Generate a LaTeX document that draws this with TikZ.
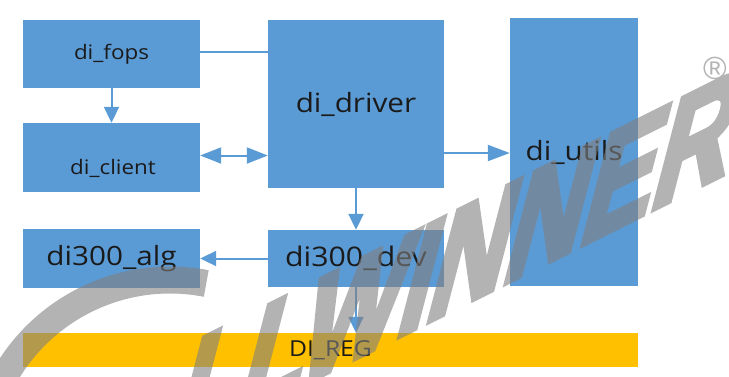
\documentclass[tikz,border=0pt]{standalone}
\usepackage{fontspec}
\setmainfont{Open Sans}[FakeStretch=1.12]
\newfontfamily\wmfont{Liberation Sans}[FakeStretch=0.76, FakeBold=4]
\newfontfamily\regfont{Liberation Sans}
\usetikzlibrary{arrows.meta}
\definecolor{boxblue}{HTML}{5B9BD5}
\definecolor{lineblue}{HTML}{5B9BD5}
\definecolor{regyellow}{HTML}{FFC000}
\definecolor{txt}{HTML}{1A1A1A}
\definecolor{wmgray}{HTML}{808080}
\begin{document}
\begin{tikzpicture}[x=1pt,y=-1pt,
  box/.style={fill=boxblue, inner sep=0pt, text=txt},
  regbox/.style={fill=regyellow, inner sep=0pt, text=txt},
  lbl/.style={inner sep=0pt, text=txt},
  conn/.style={draw=lineblue, line width=2pt},
  tipa/.style={-{Triangle[length=16pt,width=15pt]}},
  tipb/.style={{Triangle[length=21pt,width=16pt]}-{Triangle[length=21pt,width=16pt]}},
  tipc/.style={-{Triangle[length=22pt,width=16pt]}},
  wm/.style={draw=wmgray},
  wmtext/.style={text=wmgray, inner sep=0pt}]
\useasboundingbox (0,0) rectangle (729,376);

\node[box, minimum width=177pt, minimum height=68pt, font=\fontsize{20pt}{24pt}\selectfont] (fops) at (111.5,54) {di\_fops};
\node[box, minimum width=177pt, minimum height=69pt] (client) at (111.5,157.5) {};
\node[lbl, font=\fontsize{20pt}{24pt}\selectfont] (clientlbl) at (113,168) {di\_client};
\node[box, minimum width=176pt, minimum height=168pt, font=\fontsize{26.5pt}{30pt}\selectfont] (driver) at (356,104) {di\_driver};
\node[box, minimum width=128pt, minimum height=268pt, font=\fontsize{26.5pt}{30pt}\selectfont] (utils) at (574,152) {di\_utils};
\node[box, minimum width=177pt, minimum height=59pt, font=\fontsize{26.5pt}{30pt}\selectfont] (alg) at (111.5,258.5) {di300\_alg};
\node[box, minimum width=176pt, minimum height=57pt, font=\fontsize{27pt}{30pt}\selectfont] (dev) at (356,258.5) {di300\_dev};
\node[regbox, minimum width=615pt, minimum height=34pt, font=\fontsize{22pt}{26pt}\selectfont] (reg) at (330.5,350) {DI\_REG};

\coordinate (fd) at ([yshift=2pt]fops.east);
\draw[conn] (fd) -- (fd -| driver.west);
\draw[conn, tipa] (fops.south) -- (client.north);
\coordinate (cd) at ([yshift=2pt]client.east);
\draw[conn, tipb] (cd) -- (cd -| driver.west);
\coordinate (du) at ([yshift=-49pt]driver.east);
\draw[conn, tipc] (du) -- (du -| utils.west);
\draw[conn, tipa] (driver.south) -- (dev.north);
\draw[conn, tipa] (dev.west) -- (alg.east);
\draw[conn, tipa] (dev.south) -- (dev.south |- reg.north);

% watermark
\begin{scope}[transparency group, opacity=0.6]
\draw[wm, line width=27pt] (170,470) ++(205:190) arc[start angle=205, end angle=281, radius=190];
\begin{scope}[shift={(724,174)}, yslant=0.5, xslant=0.3, transform shape]
  \node[wmtext, anchor=base east, font=\wmfont\bfseries\fontsize{140pt}{144pt}\selectfont] (wmark) at (0,0) {LLWINNER};
\end{scope}
\node[wmtext, font=\regfont\fontsize{32pt}{34pt}\selectfont] (wmreg) at (715,68) {\textregistered};
\end{scope}
\end{tikzpicture}
\end{document}
